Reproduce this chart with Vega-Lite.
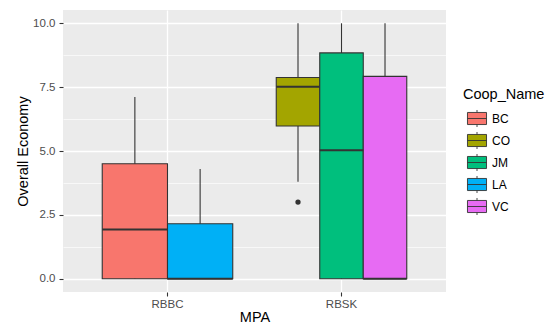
{
  "$schema": "https://vega.github.io/schema/vega-lite/v6.json",
  "autosize": {"type": "none"},
  "padding": {"left": 63, "top": 10, "right": 108, "bottom": 32},
  "width": 383,
  "height": 282,
  "background": "white",
  "data": {
    "values": [
      {"MPA": "RBBC", "Coop_Name": "BC", "lower": 0, "q1": 0, "median": 1.93, "q3": 4.5, "upper": 7.11, "outlier": null},
      {"MPA": "RBBC", "Coop_Name": "LA", "lower": 0, "q1": 0, "median": 0, "q3": 2.15, "upper": 4.3, "outlier": null},
      {"MPA": "RBSK", "Coop_Name": "CO", "lower": 3.8, "q1": 5.98, "median": 7.52, "q3": 7.88, "upper": 10, "outlier": 3.0},
      {"MPA": "RBSK", "Coop_Name": "JM", "lower": 0, "q1": 0, "median": 5.03, "q3": 8.84, "upper": 10, "outlier": null},
      {"MPA": "RBSK", "Coop_Name": "VC", "lower": 0, "q1": 0, "median": 0, "q3": 7.92, "upper": 10, "outlier": null}
    ]
  },
  "resolve": {"scale": {"xOffset": "independent"}, "axis": {"y": "independent"}},
  "layer": [
    {
      "transform": [{"filter": {"field": "MPA", "equal": "RBBC"}}],
      "encoding": {
        "x": {"field": "MPA", "type": "nominal", "title": "MPA",
              "scale": {"domain": ["RBBC", "RBSK"], "paddingInner": 0.25, "paddingOuter": 0.2255}},
        "xOffset": {"field": "Coop_Name", "type": "nominal", "sort": "ascending"}
      },
      "layer": [
        {
          "mark": {"type": "rule", "color": "#333333", "strokeWidth": 1.1},
          "encoding": {
            "y": {"field": "lower", "type": "quantitative",
                  "scale": {"domain": [-0.52, 10.52], "nice": false, "zero": false},
                  "axis": {"orient": "left", "values": [0, 2.5, 5, 7.5, 10], "format": ".1f", "grid": true, "gridWidth": 1.3,
                           "title": "Overall Economy", "titleX": -40, "titleY": 141, "titleAngle": -90, "titleAlign": "center", "titleBaseline": "middle"}},
            "y2": {"field": "upper"}
          }
        },
        {
          "mark": {"type": "bar", "stroke": "#333333", "strokeWidth": 1.1},
          "encoding": {
            "y": {"field": "q1", "type": "quantitative"},
            "y2": {"field": "q3"},
            "color": {"field": "Coop_Name", "type": "nominal", "title": "Coop_Name",
                      "scale": {"domain": ["BC", "CO", "JM", "LA", "VC"], "range": ["#F8766D", "#A3A500", "#00BF7D", "#00B0F6", "#E76BF3"]}}
          }
        },
        {
          "mark": {"type": "bar", "fill": "transparent", "stroke": "#333333", "strokeWidth": 2},
          "encoding": {
            "y": {"field": "median", "type": "quantitative"},
            "y2": {"field": "median"}
          }
        }
      ]
    },
    {
      "transform": [{"filter": {"field": "MPA", "equal": "RBSK"}}],
      "encoding": {
        "x": {"field": "MPA", "type": "nominal", "title": "MPA",
              "scale": {"domain": ["RBBC", "RBSK"], "paddingInner": 0.25, "paddingOuter": 0.2255}},
        "xOffset": {"field": "Coop_Name", "type": "nominal", "sort": "ascending"}
      },
      "layer": [
        {
          "mark": {"type": "rule", "color": "#333333", "strokeWidth": 1.1},
          "encoding": {
            "y": {"field": "lower", "type": "quantitative", "axis": null},
            "y2": {"field": "upper"}
          }
        },
        {
          "mark": {"type": "bar", "stroke": "#333333", "strokeWidth": 1.1},
          "encoding": {
            "y": {"field": "q1", "type": "quantitative", "axis": null},
            "y2": {"field": "q3"},
            "color": {"field": "Coop_Name", "type": "nominal", "title": "Coop_Name"}
          }
        },
        {
          "mark": {"type": "bar", "fill": "transparent", "stroke": "#333333", "strokeWidth": 2},
          "encoding": {
            "y": {"field": "median", "type": "quantitative", "axis": null},
            "y2": {"field": "median"}
          }
        },
        {
          "transform": [{"filter": {"field": "outlier", "valid": true}}],
          "mark": {"type": "point", "filled": true, "color": "#333333", "opacity": 1, "size": 28},
          "encoding": {
            "y": {"field": "outlier", "type": "quantitative", "axis": null}
          }
        }
      ]
    },
    {
      "mark": {"type": "point", "opacity": 0},
      "encoding": {
        "x": {"field": "MPA", "type": "nominal", "title": "MPA",
              "scale": {"domain": ["RBBC", "RBSK"], "paddingInner": 0.25, "paddingOuter": 0.2255}},
        "y": {"field": "q3", "type": "quantitative",
              "axis": {"orient": "left", "values": [1.25, 3.75, 6.25, 8.75], "grid": true, "gridWidth": 0.65,
                       "labels": false, "ticks": false, "domain": false, "title": null}}
      }
    }
  ],
  "config": {
    "font": "Liberation Sans",
    "view": {"fill": "#EBEBEB", "stroke": null},
    "axis": {
      "domain": false,
      "gridColor": "#FFFFFF",
      "tickColor": "#333333",
      "tickSize": 4,
      "tickWidth": 1.1,
      "labelFont": "Liberation Sans",
      "labelFontSize": 11.5,
      "labelColor": "#4D4D4D",
      "labelPadding": 2,
      "titleFont": "Liberation Sans",
      "titleFontSize": 14.5,
      "titleFontWeight": "normal",
      "titleColor": "#000000"
    },
    "axisY": {"labelPadding": 4},
    "axisX": {"grid": true, "gridWidth": 1.3, "titleY": 29, "titleBaseline": "alphabetic", "labelAngle": 0},
    "legend": {
      "orient": "none",
      "legendX": 400,
      "legendY": 78,
      "titleFont": "Liberation Sans",
      "titleFontSize": 14.5,
      "titleFontWeight": "normal",
      "titleColor": "#000000",
      "titlePadding": 5,
      "labelFont": "Liberation Sans",
      "labelFontSize": 12,
      "labelColor": "#000000",
      "labelOffset": 4,
      "symbolOffset": 3,
      "symbolType": "M-0.93,-0.59H0.93V0.59H-0.93Z M-0.93,0H0.93 M0,-0.59V-0.83 M0,0.59V0.83",
      "symbolSize": 420,
      "symbolStrokeColor": "#333333",
      "symbolStrokeWidth": 0.9,
      "symbolOpacity": 1,
      "rowPadding": -1
    }
  }
}
